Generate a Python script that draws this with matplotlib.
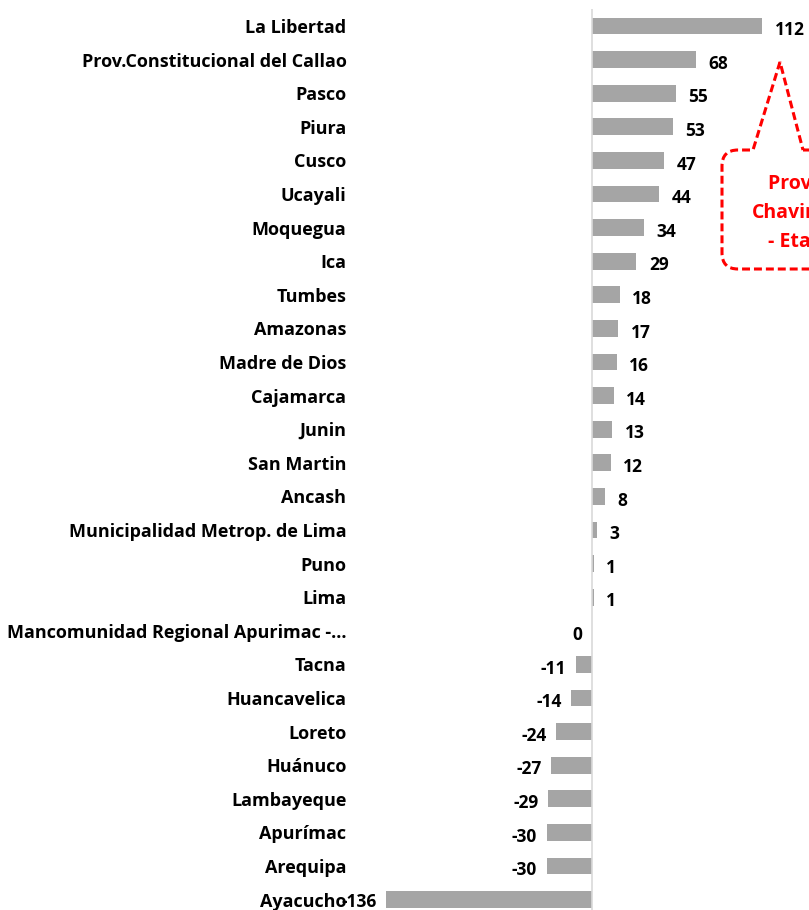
import matplotlib
matplotlib.use("Agg")
import matplotlib.pyplot as plt
from matplotlib.path import Path
from matplotlib.patches import PathPatch

categories = ["La Libertad", "Prov.Constitucional del Callao", "Pasco", "Piura", "Cusco",
              "Ucayali", "Moquegua", "Ica", "Tumbes", "Amazonas", "Madre de Dios",
              "Cajamarca", "Junin", "San Martin", "Ancash", "Municipalidad Metrop. de Lima",
              "Puno", "Lima", "Mancomunidad Regional Apurimac -...", "Tacna", "Huancavelica",
              "Loreto", "Huánuco", "Lambayeque", "Apurímac", "Arequipa", "Ayacucho"]
values = [112, 68, 55, 53, 47, 44, 34, 29, 18, 17, 16, 14, 13, 12, 8, 3, 1, 1, 0,
          -11, -14, -24, -27, -29, -30, -30, -136]
callout_text = "Prov. Esp.\nChavimochic\n- Etapa III"

plt.rcParams['font.family'] = ['Open Sans', 'DejaVu Sans']

W, H = 809, 910
fig = plt.figure(figsize=(W/100, H/100), dpi=100)
ax_left, ax_right = 386, 809
ax_top, ax_bot = 9.2, 916.4
ax = fig.add_axes([ax_left/W, 1 - ax_bot/H, (ax_right-ax_left)/W, (ax_bot-ax_top)/H])

n = len(categories)
ypos = list(range(n))
ax.barh(ypos, values, height=0.5, color="#a5a5a5", zorder=2)
ax.set_ylim(n - 0.5, -0.5)
ax.set_xlim(-136, 142.7)
ax.axvline(0, color="#d9d9d9", lw=1.2, zorder=3)
for s in ax.spines.values():
    s.set_visible(False)
ax.set_xticks([])
ax.set_yticks(ypos)
ax.set_yticklabels(categories, fontsize=13, fontweight="bold")
ax.tick_params(axis="y", length=0, pad=28.5)

for y, v in zip(ypos, values):
    dy = -1.5 if y == n - 1 else -3
    if v > 0:
        ax.annotate(str(v), (v, y), xytext=(9, dy), textcoords="offset points",
                    ha="left", va="center", fontsize=12.5, fontweight="bold")
    else:
        ax.annotate(str(v), (v, y), xytext=(-7, dy), textcoords="offset points",
                    ha="right", va="center", fontsize=12.5, fontweight="bold")

def P(x, y):
    return (x / W, 1 - y / H)

r = 16
verts = [P(803, 150), P(860, 150), P(860, 269), P(722 + r, 269), P(722, 269), P(722, 269 - r),
         P(722, 150 + r), P(722, 150), P(722 + r, 150), P(753, 150), P(780, 62), P(803, 150)]
codes = [Path.MOVETO, Path.LINETO, Path.LINETO, Path.LINETO, Path.CURVE3, Path.CURVE3,
         Path.LINETO, Path.CURVE3, Path.CURVE3, Path.LINETO, Path.LINETO, Path.LINETO]
patch = PathPatch(Path(verts, codes), transform=fig.transFigure, facecolor="white",
                  edgecolor="#ff0000", lw=2.2, ls=(0, (2.6, 1.3)), clip_on=False)
fig.patches.append(patch)
fig.text(814 / W, 1 - 213 / H, callout_text, color="#ff0000",
         fontsize=14, fontweight="bold", ha="center", va="center", linespacing=1.6)

fig.savefig("out.png", dpi=100)
